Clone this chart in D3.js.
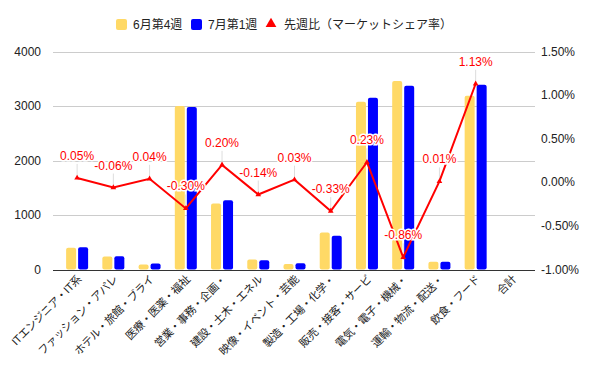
<!DOCTYPE html>
<html>
<head>
<meta charset="utf-8">
<script src="https://cdn.jsdelivr.net/npm/d3@7"></script>
<style>
  body { margin: 0; background: #fff; }
  text { font-family: "Liberation Sans", Arial, "Noto Sans CJK JP", sans-serif; }
</style>
</head>
<body>
<div id="chart"></div>
<script>
const categories = ['ITエンジニア・IT系', 'ファッション・アパレ', 'ホテル・旅館・ブライ', '医療・医薬・福祉', '営業・事務・企画・',
  '建設・土木・エネル', '映像・イベント・芸能', '製造・工場・化学・', '販売・接客・サービ', '電気・電子・機械・',
  '運輸・物流・配送・', '飲食・フード', '合計'];
const june4 = [400, 240, 90, 3000, 1210, 185, 100, 680, 3080, 3460, 140, 3190, null];
const july1 = [410, 245, 110, 2980, 1270, 170, 115, 620, 3150, 3370, 140, 3390, null];
const share = [0.05, -0.06, 0.04, -0.30, 0.20, -0.14, 0.03, -0.33, 0.23, -0.86, 0.01, 1.13, null];
const leftTicks = [0, 1000, 2000, 3000, 4000];
const rightTicks = [-1.0, -0.5, 0, 0.5, 1.0, 1.5];
const seriesNames = ['6月第4週', '7月第1週', '先週比（マーケットシェア率）'];

const W = 600, H = 371;
const colors = { june: '#ffd966', july: '#0000ff', line: '#ff0000' };
const pct = d3.formatLocale({ decimal: '.', thousands: ',', grouping: [3], currency: ['', ''], minus: '-' }).format('.2f');

const svg = d3.select('#chart').append('svg')
    .attr('width', W)
    .attr('height', H);

const x = d3.scaleBand()
    .domain(categories)
    .range([59, 530]);

const y = d3.scaleLinear().domain([0, 4000]).range([269.5, 51.5]);
const y2 = d3.scaleLinear().domain([-1.0, 1.5]).range([269.5, 51.5]);

// gridlines
svg.append('g')
  .selectAll('line')
  .data(leftTicks)
  .join('line')
    .attr('x1', 53).attr('x2', 535)
    .attr('y1', d => Math.round(y(d)) + 0.5)
    .attr('y2', d => Math.round(y(d)) + 0.5)
    .attr('stroke', d => d === 0 ? '#333' : '#ccc')
    .attr('stroke-width', 1);

// left axis labels
svg.append('g')
  .selectAll('text')
  .data(leftTicks)
  .join('text')
    .attr('x', 41)
    .attr('y', d => y(d) + 4)
    .attr('text-anchor', 'end')
    .attr('font-size', 12)
    .attr('fill', '#222')
    .text(d => d);

// right axis labels
svg.append('g')
  .selectAll('text')
  .data(rightTicks)
  .join('text')
    .attr('x', 541)
    .attr('y', d => y2(d) + 4)
    .attr('font-size', 12)
    .attr('fill', '#222')
    .text(d => pct(d) + '%');

// bars
const bw = 10, gap = 2;
const bars = svg.append('g');
categories.forEach((c, i) => {
  const cx = x(c) + x.bandwidth() / 2;
  if (june4[i] != null) {
    bars.append('rect')
      .attr('x', cx - bw - gap / 2)
      .attr('y', y(june4[i]))
      .attr('width', bw)
      .attr('height', y(0) - y(june4[i]))
      .attr('rx', 2)
      .attr('fill', colors.june);
  }
  if (july1[i] != null) {
    bars.append('rect')
      .attr('x', cx + gap / 2)
      .attr('y', y(july1[i]))
      .attr('width', bw)
      .attr('height', y(0) - y(july1[i]))
      .attr('rx', 2)
      .attr('fill', colors.july);
  }
});

// line
const pts = categories.map((c, i) => ({ c, v: share[i] })).filter(d => d.v != null);
const px = d => x(d.c) + x.bandwidth() / 2;

// leader lines
svg.append('g')
  .selectAll('line')
  .data(pts)
  .join('line')
    .attr('x1', px).attr('x2', px)
    .attr('y1', d => y2(d.v) - 14)
    .attr('y2', d => y2(d.v) - 2)
    .attr('stroke', '#ddd');

svg.append('path')
  .datum(pts)
  .attr('fill', 'none')
  .attr('stroke', colors.line)
  .attr('stroke-width', 2)
  .attr('d', d3.line().x(px).y(d => y2(d.v)));

svg.append('g')
  .selectAll('path')
  .data(pts)
  .join('path')
    .attr('transform', d => `translate(${px(d)},${y2(d.v)})`)
    .attr('d', d3.symbol(d3.symbolTriangle, 14))
    .attr('fill', colors.line);

svg.append('g')
  .selectAll('text')
  .data(pts)
  .join('text')
    .attr('x', px)
    .attr('y', d => y2(d.v) - 18)
    .attr('text-anchor', 'middle')
    .attr('font-size', 12)
    .attr('fill', colors.line)
    .attr('stroke', '#fff')
    .attr('stroke-width', 3)
    .attr('paint-order', 'stroke')
    .text(d => pct(d.v) + '%');

// x labels
svg.append('g')
  .selectAll('text')
  .data(categories)
  .join('text')
    .attr('transform', c => `translate(${x(c) + x.bandwidth() / 2 + 5},${280}) rotate(-45)`)
    .attr('text-anchor', 'end')
    .attr('font-size', 11)
    .attr('letter-spacing', -0.3)
    .attr('fill', '#222')
    .text(c => c);

// legend
const legend = svg.append('g');
const lx = [116, 190, 266];
legend.append('rect').attr('x', lx[0]).attr('y', 19).attr('width', 11).attr('height', 11).attr('rx', 2).attr('fill', colors.june);
legend.append('text').attr('x', lx[0] + 17).attr('y', 29).attr('font-size', 12).attr('fill', '#222').text(seriesNames[0]);
legend.append('rect').attr('x', lx[1] + 1).attr('y', 19).attr('width', 11).attr('height', 11).attr('rx', 2).attr('fill', colors.july);
legend.append('text').attr('x', lx[1] + 18).attr('y', 29).attr('font-size', 12).attr('fill', '#222').text(seriesNames[1]);
legend.append('path')
  .attr('transform', `translate(${lx[2] + 5},24)`)
  .attr('d', d3.symbol(d3.symbolTriangle, 50))
  .attr('fill', colors.line);
legend.append('text').attr('x', lx[2] + 18).attr('y', 29).attr('font-size', 12).attr('fill', '#222').text(seriesNames[2]);
</script>
</body>
</html>
